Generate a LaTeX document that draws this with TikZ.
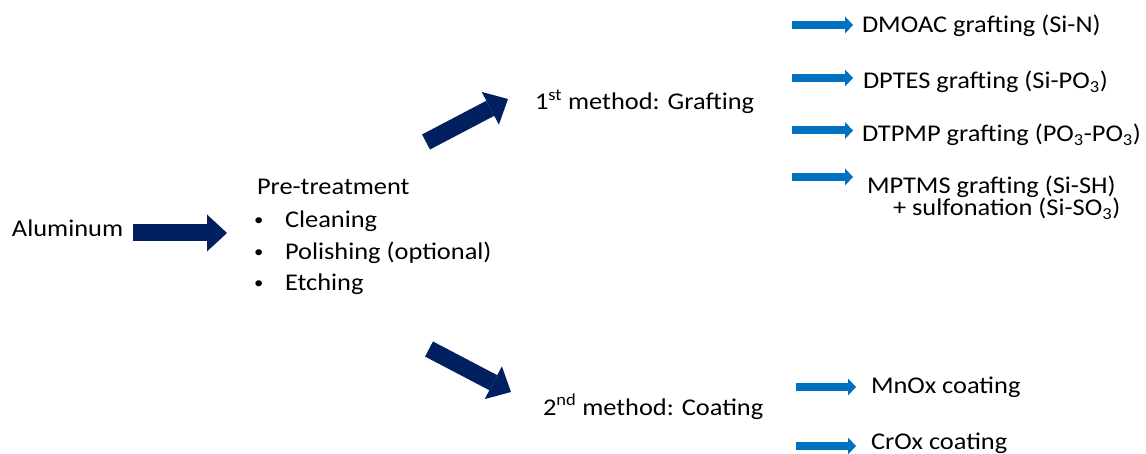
\documentclass[tikz,border=0pt]{standalone}
\usepackage{fontspec}
\setmainfont{Carlito}[FakeStretch=1.1]
\usetikzlibrary{arrows.meta}
\definecolor{navy}{HTML}{002060}
\definecolor{azure}{HTML}{0070C0}
\tikzset{
  lbl/.style={anchor=base west, inner sep=0pt, outer sep=0pt, font=\fontsize{24}{29}\selectfont, text=black},
  bul/.style={anchor=base west, inner sep=0pt, outer sep=0pt, font=\fontsize{17}{20}\selectfont, text=black},
  bigarrow/.style={draw=navy, line width=17pt, line cap=butt,
    -{Triangle[width=37pt,length=20pt,line width=0pt,fill=navy]}},
  smallarrow/.style={draw=azure, line width=8pt, line cap=butt,
    -{Triangle[width=17pt,length=8pt,line width=0pt,fill=azure]}}
}
\begin{document}
\begin{tikzpicture}[x=1pt,y=-1pt]
\useasboundingbox (0,0) rectangle (1146,454);
% texts
\node[lbl] (al) at (12,237) {Aluminum};
\node[lbl] (pre) at (257,195) {Pre-treatment};
\node[bul] (b1) at (254,226) {•};
\node[lbl] (clean) at (285,228) {Cleaning};
\node[bul] (b2) at (254,257.5) {•};
\node[lbl] (polish) at (285,259.5) {Polishing (optional)};
\node[bul] (b3) at (254,289) {•};
\node[lbl] (etch) at (285,291) {Etching};
\node[lbl] (m1) at (535,110) {1\textsuperscript{st} method: Grafting};
\node[lbl] (m2) at (543,415) {2\textsuperscript{nd} method: Coating};
\node[lbl] (g1) at (862,33) {DMOAC grafting (Si-N)};
\node[lbl] (g2) at (863,89) {DPTES grafting (Si-PO\textsubscript{3})};
\node[lbl] (g3) at (862,142) {DTPMP grafting (PO\textsubscript{3}-PO\textsubscript{3})};
\node[lbl] (g4) at (867,194) {MPTMS grafting (Si-SH)};
\node[lbl] (g4b) at (893,216) {+ sulfonation (Si-SO\textsubscript{3})};
\node[lbl] (c1) at (871,393) {MnOx coating};
\node[lbl] (c2) at (871,449) {CrOx coating};
% arrow end points
\coordinate (a0s) at (133,233);
\coordinate (a0e) at (227,233);
\coordinate (a1s) at (426,142);
\coordinate (a1e) at (508,99);
\coordinate (a2s) at (429,349);
\coordinate (a2e) at (511,392);
\coordinate (s1s) at (792,25);   \coordinate (s1e) at (853,25);
\coordinate (s2s) at (792,78);   \coordinate (s2e) at (853,78);
\coordinate (s3s) at (792,130.5);\coordinate (s3e) at (853,130.5);
\coordinate (s4s) at (792,177);  \coordinate (s4e) at (853,177);
\coordinate (s5s) at (796,387);  \coordinate (s5e) at (856,387);
\coordinate (s6s) at (796,446);  \coordinate (s6e) at (856,446);
% arrows
\draw[bigarrow] (a0s) -- (a0e);
\draw[bigarrow] (a1s) -- (a1e);
\draw[bigarrow] (a2s) -- (a2e);
\foreach \i in {1,...,6} {\draw[smallarrow] (s\i s) -- (s\i e);}
\end{tikzpicture}
\end{document}
